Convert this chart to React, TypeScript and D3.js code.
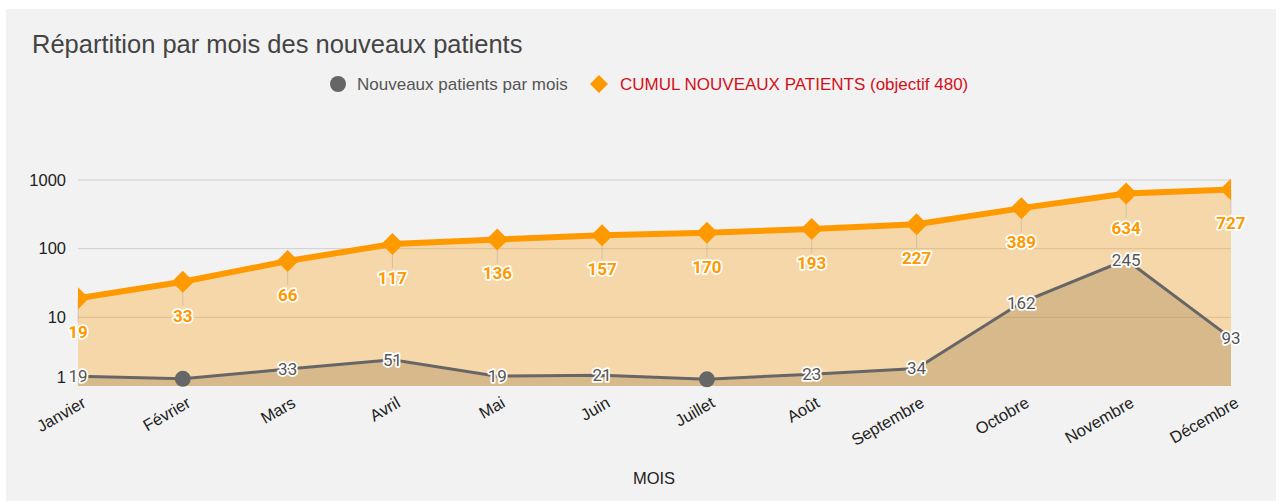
import * as d3 from 'd3'
import React from 'react'

const months = [
  'Janvier',
  'Février',
  'Mars',
  'Avril',
  'Mai',
  'Juin',
  'Juillet',
  'Août',
  'Septembre',
  'Octobre',
  'Novembre',
  'Décembre'
]
const newPatients = [19, 14, 33, 51, 19, 21, 13, 23, 34, 162, 245, 93]
const cumulPatients = [19, 33, 66, 117, 136, 157, 170, 193, 227, 389, 634, 727]
// labels google hid because of collisions, only the dot is visible there
const hiddenLabels = ['Février', 'Juillet']
const logTicks = [1, 10, 100, 1000]

const FONT = '"Liberation Sans", Arial, sans-serif'
const LABEL_FONT = 'Roboto, "Liberation Sans", Arial, sans-serif'
const ORANGE = '#ff9900'
const GREY = '#666666'

const App = () => {
  const W = 1282
  const H = 501
  const plot = { left: 78, right: 1231, top: 180, bottom: 386 }

  const x = d3.scalePoint().domain(months).range([plot.left, plot.right])
  const yLog = d3.scaleLog().domain([1, 1000]).range([plot.bottom, plot.top])
  // second (hidden) axis for monthly values, linear
  const yLin = d3.scaleLinear().domain([0, 400]).range([plot.bottom, plot.top])

  const greyRows = months.map((m, i) => ({ m, v: newPatients[i] }))
  const orangeRows = months.map((m, i) => ({ m, v: cumulPatients[i] }))

  const greyArea = d3
    .area()
    .x((d) => x(d.m))
    .y0(plot.bottom)
    .y1((d) => yLin(d.v))
  const greyLine = d3
    .line()
    .x((d) => x(d.m))
    .y((d) => yLin(d.v))
  const orangeArea = d3
    .area()
    .x((d) => x(d.m))
    .y0(plot.bottom)
    .y1((d) => yLog(d.v))
  const orangeLine = d3
    .line()
    .x((d) => x(d.m))
    .y((d) => yLog(d.v))

  const diamond = (cx, cy, r) =>
    `M${cx},${cy - r}L${cx + r},${cy}L${cx},${cy + r}L${cx - r},${cy}Z`

  return (
    <div style={{ position: 'absolute', left: 0, top: 0 }}>
      <svg width={W} height={H} style={{ display: 'block', background: '#fff' }}>
        <defs>
          <clipPath id='plotClip'>
            <rect
              x={plot.left}
              y={plot.top - 20}
              width={plot.right - plot.left}
              height={plot.bottom - plot.top + 20}
            />
          </clipPath>
        </defs>
        <rect x={6} y={9} width={1270} height={492} fill='#f2f2f2' />

        <text x={32} y={53} fontFamily={FONT} fontSize={25.5} fill='#444'>
          Répartition par mois des nouveaux patients
        </text>

        {/* legend */}
        <circle cx={338} cy={84} r={8} fill={GREY} />
        <text x={357} y={90} fontFamily={FONT} fontSize={17} fill='#555'>
          Nouveaux patients par mois
        </text>
        <path d={diamond(599, 84, 9)} fill={ORANGE} />
        <text x={620} y={90} fontFamily={FONT} fontSize={17} fill='#d2101a'>
          CUMUL NOUVEAUX PATIENTS (objectif 480)
        </text>

        {/* gridlines + y axis */}
        {logTicks.map((t) => (
          <g key={t}>
            {t > 1 && (
              <line
                x1={plot.left}
                x2={plot.right}
                y1={yLog(t)}
                y2={yLog(t)}
                stroke='#cfcfcf'
                strokeWidth={1}
              />
            )}
            <text
              x={66}
              y={yLog(t) - (t === 1 ? 9 : 0)}
              dy='0.35em'
              textAnchor='end'
              fontFamily={FONT}
              fontSize={16.5}
              fill='#222'
            >
              {t}
            </text>
          </g>
        ))}

        {/* areas: grey below, orange over it, both translucent */}
        <path d={greyArea(greyRows)} fill={GREY} fillOpacity={0.3} />
        <path d={orangeArea(orangeRows)} fill={ORANGE} fillOpacity={0.3} />

        {/* annotation stems */}
        {orangeRows.map((d) => (
          <line
            key={'s' + d.m}
            x1={x(d.m)}
            x2={x(d.m)}
            y1={yLog(d.v)}
            y2={yLog(d.v) + 24}
            stroke='#999'
            strokeOpacity={0.35}
          />
        ))}

        <path d={greyLine(greyRows)} fill='none' stroke={GREY} strokeWidth={3} />
        {greyRows
          .filter((d) => hiddenLabels.includes(d.m))
          .map((d) => (
            <circle key={'c' + d.m} cx={x(d.m)} cy={yLin(d.v)} r={8} fill={GREY} />
          ))}

        <g clipPath='url(#plotClip)'>
          <path d={orangeLine(orangeRows)} fill='none' stroke={ORANGE} strokeWidth={6} />
          {orangeRows.map((d) => (
            <path key={'d' + d.m} d={diamond(x(d.m), yLog(d.v), 11)} fill={ORANGE} />
          ))}
        </g>

        {/* data labels */}
        {greyRows
          .filter((d) => !hiddenLabels.includes(d.m))
          .map((d) => (
            <text
              key={'g' + d.m}
              x={x(d.m)}
              y={yLin(d.v)}
              dy='0.35em'
              textAnchor='middle'
              fontFamily={LABEL_FONT}
              fontSize={17}
              fill='#555'
              stroke='#fff'
              strokeWidth={3.5}
              strokeLinejoin='round'
              paintOrder='stroke'
            >
              {d.v}
            </text>
          ))}
        {orangeRows.map((d) => (
          <text
            key={'o' + d.m}
            x={x(d.m)}
            y={yLog(d.v) + 34}
            dy='0.35em'
            textAnchor='middle'
            fontFamily={LABEL_FONT}
            fontWeight='bold'
            fontSize={17}
            fill={ORANGE}
            stroke='#fff'
            strokeWidth={3.5}
            strokeLinejoin='round'
            paintOrder='stroke'
          >
            {d.v}
          </text>
        ))}

        {/* x axis labels */}
        {months.map((m) => (
          <text
            key={'x' + m}
            transform={`translate(${x(m) + 9},406) rotate(-30)`}
            textAnchor='end'
            fontFamily={FONT}
            fontSize={16.5}
            fill='#222'
          >
            {m}
          </text>
        ))}
        <text x={654} y={484} textAnchor='middle' fontFamily={FONT} fontSize={16.5} fill='#222'>
          MOIS
        </text>
      </svg>
    </div>
  )
}

export default App
